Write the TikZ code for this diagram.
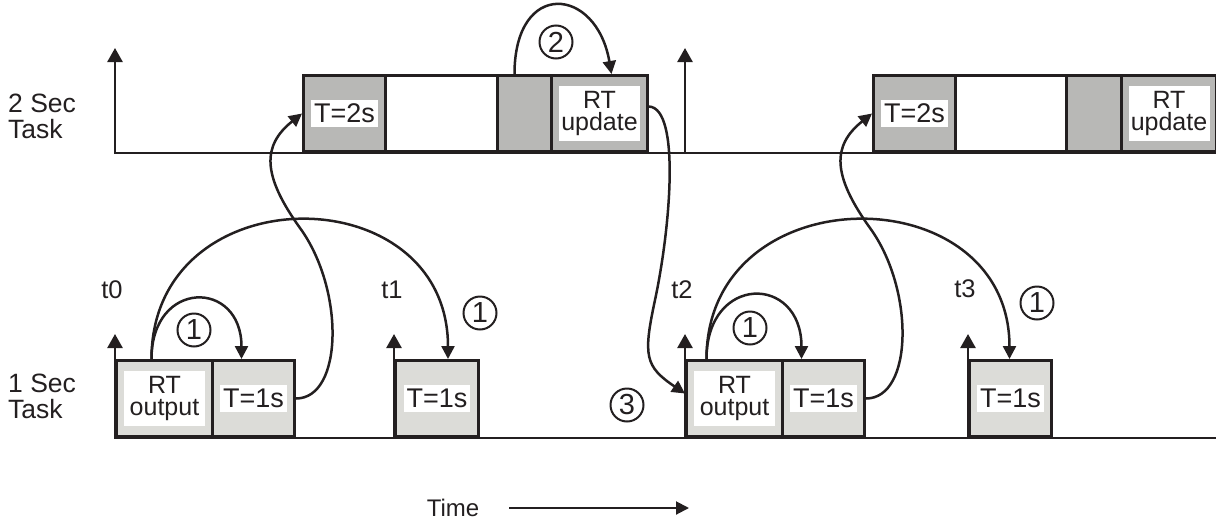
\documentclass[tikz,border=0pt]{standalone}
\usepackage{fontspec}
\setmainfont{Liberation Sans}
\usetikzlibrary{arrows.meta}

\definecolor{slowgray}{RGB}{184,184,182}
\definecolor{fastgray}{RGB}{220,220,216}
\definecolor{ink}{RGB}{35,31,32}

\begin{document}
\begin{tikzpicture}[x=1pt,y=-1pt,
  every node/.style={font=\fontsize{25.5}{26}\selectfont, text=ink},
  box/.style={draw=ink, line width=3pt, anchor=south west, inner sep=0pt, minimum height=76pt},
  slowbox/.style={box, fill=slowgray},
  fastbox/.style={box, fill=fastgray},
  idlebox/.style={box, fill=white},
  tag/.style={fill=white, inner xsep=3pt, inner ysep=4pt, font=\fontsize{27}{30}\selectfont},
  rttag/.style={fill=white, align=center, inner sep=0pt, minimum width=81pt, minimum height=55pt, font=\fontsize{25}{22}\selectfont},
  num/.style={circle, draw=ink, line width=2pt, minimum size=33pt, inner sep=0pt, font=\fontsize{29}{30}\selectfont},
  side/.style={anchor=west, inner sep=0pt, align=left, font=\fontsize{26.5}{26}\selectfont},
  axis/.style={draw=ink, line width=2.5pt},
  tick/.style={axis, -{Triangle[length=14pt,width=15pt]}},
  link/.style={draw=ink, line width=2.5pt, -{Triangle[length=13pt,width=13pt]}}
]

  \useasboundingbox (0,0) rectangle (1216,520);

  \draw[axis, {Triangle[length=14pt,width=15pt]}-] (115,48) -- (115,153) -- (1216,153);
  \draw[axis, {Triangle[length=14pt,width=15pt]}-] (115,334) -- (115,438) -- (1216,438);

  \node[side] (slowTask) at (8,116) {2 Sec\\Task};
  \node[side] (fastTask) at (8,396) {1 Sec\\Task};

  \node[slowbox, minimum width=82pt] (slowA) at (302,153) {};
  \node[idlebox, minimum width=112pt] (idleA) at (384,153) {};
  \node[slowbox, minimum width=54pt] (waitA) at (496,153) {};
  \node[slowbox, minimum width=96pt] (updA) at (550,153) {};
  \node[slowbox, minimum width=82pt] (slowB) at (872,153) {};
  \node[idlebox, minimum width=111pt] (idleB) at (954,153) {};
  \node[slowbox, minimum width=55pt] (waitB) at (1065,153) {};
  \node[slowbox, minimum width=95pt] (updB) at (1120,153) {};

  \node[tag] (slowAtxt) at (slowA) {T=2s};
  \node[rttag] (updAtxt) at (updA) {RT\\update};
  \node[tag] (slowBtxt) at (slowB) {T=2s};
  \node[rttag] (updBtxt) at (updB) {RT\\update};

  \node[fastbox, minimum width=96pt] (outA) at (115,438) {};
  \node[fastbox, minimum width=82pt] (fastA) at (211,438) {};
  \node[fastbox, minimum width=83pt] (fastB) at (394,438) {};
  \node[fastbox, minimum width=96pt] (outB) at (685,438) {};
  \node[fastbox, minimum width=82pt] (fastC) at (781,438) {};
  \node[fastbox, minimum width=82pt] (fastD) at (968,438) {};

  \node[rttag] (outAtxt) at (outA) {RT\\output};
  \node[tag] (fastAtxt) at (fastA) {T=1s};
  \node[tag] (fastBtxt) at (fastB) {T=1s};
  \node[rttag] (outBtxt) at (outB) {RT\\output};
  \node[tag] (fastCtxt) at (fastC) {T=1s};
  \node[tag] (fastDtxt) at (fastD) {T=1s};

  \draw[tick] (685,153) -- (685,48);
  \draw[tick] (394,438) -- (394,334);
  \draw[tick] (685,438) -- (685,334);
  \draw[tick] (968,438) -- (968,334);

  \node (tzero) at (112,290) {t0};
  \node (tone) at (392,290) {t1};
  \node (ttwo) at (682,290) {t2};
  \node (tthree) at (965,289) {t3};

  \node[num] (stepA) at (194,330) {1};
  \node[num] (stepB) at (480,313) {1};
  \node[num] (stepC) at (556,42) {2};
  \node[num] (stepD) at (627,405) {3};
  \node[num] (stepE) at (750,328) {1};
  \node[num] (stepF) at (1037,303) {1};

  \draw[link] ([xshift=-13pt]outA.north) .. controls +(0,-80) and +(0,-80) .. ([xshift=-12pt]fastA.north);
  \draw[link] ([xshift=-13pt]outA.north) .. controls +(0,-185) and +(0,-185) .. ([xshift=11pt]fastB.north);
  \draw[link] ([xshift=-28pt]outB.north) .. controls +(0,-85) and +(0,-85) .. ([xshift=-22pt]fastC.north);
  \draw[link] ([xshift=-28pt]outB.north) .. controls +(0,-185) and +(0,-185) .. ([xshift=-1pt]fastD.north);

  \draw[link] (fastA.east) .. controls +(47,0) and +(45,62) .. (300,228) .. controls +(-38,-53) and +(-40,32) .. (slowA.west);
  \draw[link] (fastC.east) .. controls +(47,0) and +(45,62) .. (870,228) .. controls +(-38,-53) and +(-40,32) .. (slowB.west);

  \draw[link] ([xshift=-10pt]waitA.north) .. controls +(0,-95) and +(-15,-88) .. ([xshift=12pt]updA.north);
  \draw[link] ([yshift=7pt]updA.east) .. controls +(32,2) and +(15,-70) .. (655,300) .. controls +(-12,56) and +(-40,-27) .. ([yshift=5pt]outB.west);

  \node[font=\fontsize{24}{26}\selectfont] (timeLbl) at (453,508) {Time};
  \draw[ink, line width=2pt, -{Triangle[length=13pt,width=13pt]}] (509,508) -- (689,508);

\end{tikzpicture}
\end{document}
